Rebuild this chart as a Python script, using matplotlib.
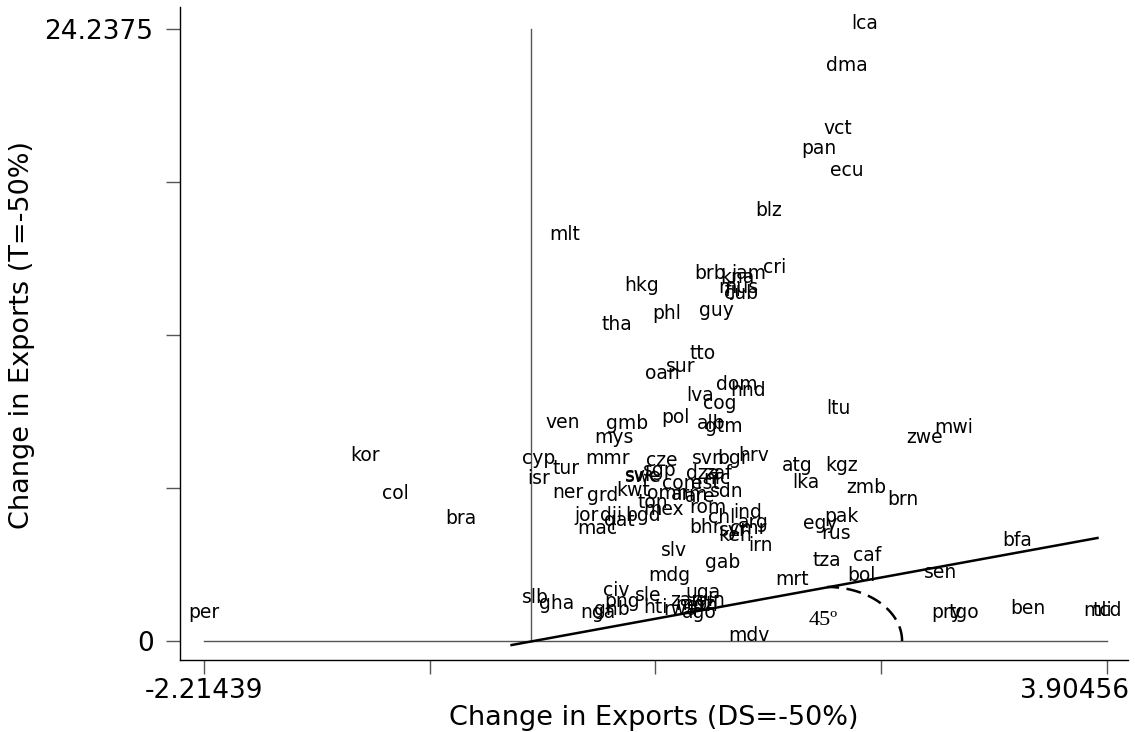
import numpy as np
import matplotlib
matplotlib.use("Agg")
import matplotlib.pyplot as plt

# country codes and their (change under DS=-50%, change under T=-50%)
codes = ["lca", "dma", "vct", "pan", "ecu", "blz", "mlt", "cri", "brb", "jam",
         "kna", "mus", "fji", "cub", "hkg", "guy", "phl", "tha", "tto", "sur",
         "oan", "dom", "hnd", "lva", "cog", "ltu", "mwi", "zwe", "ven", "gmb",
         "pol", "alb", "gtm", "mys", "kor", "cyp", "mmr", "tur", "cze", "svn",
         "bgr", "hrv", "atg", "kgz", "sgp", "dza", "zaf", "nic", "isr", "svk",
         "swe", "com", "est", "lka", "zmb", "brn", "col", "ner", "grd", "kwt",
         "omn", "arm", "are", "sdn", "ton", "rom", "jor", "dji", "bgd", "mex",
         "qat", "mac", "ind", "chl", "arg", "syr", "cmr", "ken", "irn", "bhr",
         "slv", "gab", "pak", "egy", "rus", "tza", "caf", "mrt", "bol", "sen",
         "bfa", "bra", "mdg", "uga", "civ", "sle", "png", "slb", "gha", "nga",
         "gnb", "hti", "zar", "moz", "eth", "gin", "rwa", "ago", "per", "ben",
         "mli", "tcd", "pry", "tgo", "mdv"]
ds_change = [2.265, 2.143, 2.082, 1.953, 2.143, 1.614, 0.232, 1.655, 1.215, 1.479,
             1.398, 1.404, 1.370, 1.425, 0.754, 1.255, 0.923, 0.584, 1.161, 1.018,
             0.889, 1.398, 1.472, 1.147, 1.283, 2.082, 2.868, 2.665, 0.218, 0.652,
             0.977, 1.222, 1.309, 0.564, -1.123, 0.056, 0.517, 0.239, 0.890, 1.201,
             1.370, 1.513, 1.804, 2.109, 0.876, 1.167, 1.269, 1.262, 0.056, 0.747,
             0.761, 1.025, 1.181, 1.865, 2.272, 2.522, -0.920, 0.253, 0.490, 0.693,
             0.930, 1.079, 1.147, 1.330, 0.829, 1.201, 0.381, 0.544, 0.761, 0.903,
             0.598, 0.449, 1.472, 1.296, 1.506, 1.370, 1.472, 1.384, 1.560, 1.181,
             0.970, 1.303, 2.102, 1.960, 2.068, 2.007, 2.278, 1.770, 2.238, 2.780,
             3.295, -0.473, 0.937, 1.167, 0.578, 0.795, 0.618, 0.029, 0.178, 0.456,
             0.551, 0.842, 1.045, 1.113, 1.161, 1.215, 1.018, 1.140, -2.21439, 3.370,
             3.844, 3.90456, 2.821, 2.936, 1.479]
t_change = [24.2375, 22.57, 20.08, 19.29, 18.42, 16.83, 15.88, 14.57, 14.34, 14.34,
            14.18, 13.78, 13.66, 13.54, 13.86, 12.87, 12.75, 12.32, 11.17, 10.65,
            10.38, 9.94, 9.70, 9.50, 9.19, 8.99, 8.24, 7.84, 8.44, 8.40,
            8.63, 8.40, 8.28, 7.84, 7.13, 7.01, 7.01, 6.61, 6.93, 7.01,
            7.01, 7.13, 6.73, 6.73, 6.53, 6.42, 6.42, 6.22, 6.22, 6.34,
            6.30, 6.02, 6.02, 6.06, 5.86, 5.39, 5.62, 5.66, 5.54, 5.74,
            5.62, 5.58, 5.50, 5.70, 5.27, 5.07, 4.75, 4.75, 4.75, 4.99,
            4.55, 4.24, 4.87, 4.67, 4.48, 4.16, 4.24, 3.96, 3.56, 4.28,
            3.37, 2.89, 4.71, 4.44, 4.04, 2.97, 3.17, 2.22, 2.38, 2.50,
            3.76, 4.63, 2.38, 1.70, 1.78, 1.58, 1.35, 1.50, 1.27, 0.91,
            1.03, 1.11, 1.39, 1.23, 1.19, 1.39, 1.03, 0.91, 0.91, 1.07,
            0.99, 0.99, 0.91, 0.91, 0.0]

x_min, x_max = -2.21439, 3.90456
y_min, y_max = 0.0, 24.2375

# reference line and the angle marker drawn on it
ref_x = [-0.13, 3.84]
ref_y = [-0.16, 4.08]
arc_center = (2.008, 0.0)
arc_radii = (0.508, 2.14)
angle_label = "45\u00ba"

fig = plt.figure(figsize=(11.35, 7.32), dpi=100)
ax = fig.add_axes([180 / 1135, 72 / 732, 948 / 1135, 653 / 732])

ax.plot([0, 0], [y_min, y_max], color="#555555", lw=1.0)
ax.plot([x_min, x_max], [0, 0], color="#555555", lw=1.0)
ax.plot(ref_x, ref_y, color="black", lw=1.8)

th = np.linspace(0, np.pi / 2, 60)
ax.plot(arc_center[0] + arc_radii[0] * np.cos(th),
        arc_center[1] + arc_radii[1] * np.sin(th),
        color="black", lw=1.8, ls=(0, (6, 3)))
ax.text(1.98, 0.83, angle_label, ha="center", va="center",
        fontsize=16, family="Liberation Serif")

for c, xv, yv in zip(codes, ds_change, t_change):
    ax.text(xv, yv, c, ha="center", va="baseline", fontsize=13.5,
            family="DejaVu Sans", clip_on=False)

ax.set_xlim(-2.3770, 4.0469)
ax.set_ylim(-0.7525, 25.1088)

xt = np.linspace(x_min, x_max, 5)
yt = np.linspace(y_min, y_max, 5)
ax.set_xticks(xt)
ax.set_xticklabels([])
ax.set_yticks(yt)
ax.set_yticklabels(["0", "", "", "", "24.2375"])
ax.tick_params(axis="both", direction="out", length=10, width=1,
               color="#555555", labelsize=19)
ax.tick_params(axis="y", pad=9)

# end labels of the x axis; the right one is pulled inside the figure
ax.annotate("-2.21439", xy=(x_min, 0), xycoords=("data", "axes fraction"),
            xytext=(0, -22), textcoords="offset points",
            ha="center", va="center", fontsize=19)
ax.annotate("3.90456", xy=(x_max, 0), xycoords=("data", "axes fraction"),
            xytext=(16, -22), textcoords="offset points",
            ha="right", va="center", fontsize=19)

for s in ["top", "right"]:
    ax.spines[s].set_visible(False)
for s in ["left", "bottom"]:
    ax.spines[s].set_color("black")
    ax.spines[s].set_linewidth(1.0)

fig.text(654 / 1135, 1 - 718 / 732, "Change in Exports (DS=-50%)",
         ha="center", va="center", fontsize=19.5)
fig.text(22 / 1135, 1 - 335 / 732, "Change in Exports (T=-50%)",
         ha="center", va="center", rotation=90, fontsize=19.5)

fig.savefig("out.png", dpi=100)
